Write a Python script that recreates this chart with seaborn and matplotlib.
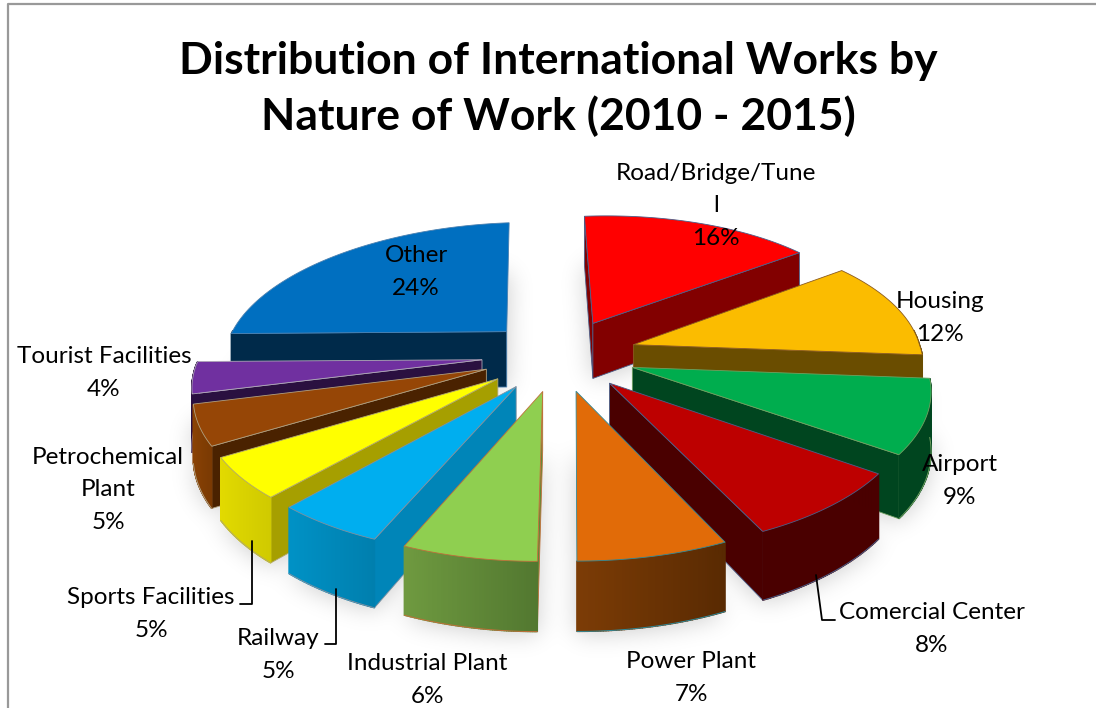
import numpy as np
import seaborn as sns
import matplotlib.pyplot as plt
from matplotlib.colors import to_rgb
from matplotlib.patches import Polygon
from matplotlib.path import Path

labels = ['Road/Bridge/Tune\nl', 'Housing', 'Airport', 'Comercial Center', 'Power Plant',
          'Industrial Plant', 'Railway', 'Sports Facilities', 'Petrochemical\nPlant',
          'Tourist Facilities', 'Other']
# shares, they round to the printed percentages
values = [15.6, 11.9, 8.6, 8.0, 7.0, 6.3, 5.2, 4.9, 4.8, 3.8, 24.0]

top_colors = ['#ff0000', '#fbbc00', '#00ad4e', '#bd0000', '#e16b08', '#8fcf50', '#00aeef',
              '#ffff00', '#964606', '#7030a0', '#006fc0']
face_colors = ['#820000', '#6a4d00', '#00451f', '#4a0000', '#6e3404', '#5f8a38', '#0085b8',
               '#a69f00', '#4a2200', '#2a1040', '#002a4a']
rim_left = ['#820000', '#6a4d00', '#00451f', '#4a0000', '#7c3c06', '#6f9a40', '#0092c6',
            '#e2da00', '#8a4204', '#2a1040', '#002a4a']
rim_right = ['#820000', '#6a4d00', '#00451f', '#4a0000', '#592a02', '#527830', '#007fae',
             '#d0ca00', '#7a3a03', '#2a1040', '#002a4a']
edge_colors = ['#4a5f8a', '#8a5a20', '#70a060', '#4a5f8a', '#2f8a9a', '#c0703a', '#8090a0',
               '#b0a870', '#b0a080', '#b0a8b8', '#4a80b0']

# label text centres, in pixels of the 1096x708 image
label_x = [716, 940, 960, 932, 691, 427, 278, 151, 108, 104, 416]
label_y = [206, 318, 481, 629, 678, 680, 655, 614, 490, 373, 272]

sns.set_theme(style='white')
plt.rcParams['font.family'] = ['Lato', 'DejaVu Sans']

W, H = 1096, 708
CX, CY = 559, 355
AX, AY = 286, 132
PERSP = 0.15
SHEAR = 12
TILT = 8
EXPLODE = 0.27
DEPTH = 57
ROT = -1


def project(x, y, z=0):
    s = 1 / (1 - PERSP * y)
    sx = CX + x * AX * s + SHEAR * np.maximum(y, 0) * s
    sy = CY + y * AY * s + z * s - TILT * x * s
    return sx, sy


def arc(start, end, n=40):
    t = np.radians(np.linspace(start, end, n))
    return np.sin(t), -np.cos(t)


fig = plt.figure(figsize=(W / 100, H / 100), dpi=100)
ax = fig.add_axes([0, 0, 1, 1])

# slices as angle ranges, clockwise from the back of the pie
angles = np.cumsum([0] + values) / sum(values) * 360 + ROT
slices = []
for i in range(len(values)):
    a0, a1 = angles[i], angles[i + 1]
    mid = np.radians((a0 + a1) / 2)
    slices.append((i, a0, a1, np.sin(mid) * EXPLODE, -np.cos(mid) * EXPLODE))
# back to front
slices.sort(key=lambda s: s[4])

# soft shadow: slices at the bottom of the pie, blurred
gx, gy = np.meshgrid(np.arange(W) + 0.5, np.arange(H) + 0.5)
grid = np.c_[gx.ravel(), gy.ravel()]
mask = np.zeros(H * W, dtype=bool)
for i, a0, a1, ox, oy in slices:
    xs, ys = arc(a0, a1)
    sx, sy = project(np.r_[0, xs] + ox, np.r_[0, ys] + oy, DEPTH + 2)
    mask |= Path(np.c_[sx, sy]).contains_points(grid)
mask = mask.reshape(H, W).astype(float)
fy = np.fft.fftfreq(H)[:, None]
fx = np.fft.rfftfreq(W)[None, :]
blur = np.fft.irfft2(np.fft.rfft2(mask) * np.exp(-2 * (np.pi * 12) ** 2 * (fx ** 2 + fy ** 2)), s=(H, W))
shadow = np.zeros((H, W, 4))
shadow[..., 3] = np.clip(blur, 0, 1) * 0.2
ax.imshow(shadow, extent=(0, W, H, 0), aspect='auto', zorder=0)

for i, a0, a1, ox, oy in slices:
    edge = edge_colors[i]
    # flat cut faces that look towards the viewer
    for ang, visible in ((a0, np.sin(np.radians(a0)) < 0), (a1, np.sin(np.radians(a1)) > 0)):
        if visible:
            ex, ey = arc(ang, ang, 1)
            px = np.array([ox, ox + ex[0], ox + ex[0], ox])
            py = np.array([oy, oy + ey[0], oy + ey[0], oy])
            sx, sy = project(px, py, np.array([0, 0, DEPTH, DEPTH]))
            ax.add_patch(Polygon(np.c_[sx, sy], fc=face_colors[i], ec=edge, lw=0.6))
    # outer rim, in short strips so it can carry the gradient
    xs, ys = arc(a0, a1, 60)
    for j in range(len(xs) - 1):
        if ys[j] < -0.05 and ys[j + 1] < -0.05:
            continue
        f = (xs[j] - xs.min()) / (xs.max() - xs.min())
        col = tuple((1 - f) * np.array(to_rgb(rim_left[i])) + f * np.array(to_rgb(rim_right[i])))
        px = ox + np.array([xs[j], xs[j + 1], xs[j + 1], xs[j]])
        py = oy + np.array([ys[j], ys[j + 1], ys[j + 1], ys[j]])
        sx, sy = project(px, py, np.array([0, 0, DEPTH, DEPTH]))
        ax.add_patch(Polygon(np.c_[sx, sy], fc=col, ec=col, lw=1.0))
    # bottom edge of the rim, same zorder as the patches so later slices cover it
    front = ys >= -0.05
    if front.any():
        sx, sy = project(ox + xs[front], oy + ys[front], DEPTH)
        ax.plot(sx, sy, color=edge, lw=0.7, zorder=1)
    # top surface
    sx, sy = project(np.r_[0, xs] + ox, np.r_[0, ys] + oy)
    ax.add_patch(Polygon(np.c_[sx, sy], fc=top_colors[i], ec=edge, lw=0.6))

# leader lines
ax.plot([816, 822, 835], [575, 620, 620], color='black', lw=1.3)
ax.plot([252, 252, 240], [541, 604, 604], color='black', lw=1.3)
ax.plot([336, 336, 325], [589, 644, 644], color='black', lw=1.3)

for name, v, x, y in zip(labels, values, label_x, label_y):
    ax.text(x, y, f'{name}\n{v:.0f}%', ha='center', va='center', fontsize=17.5, color='black',
            linespacing=1.65)

ax.text(558, 89, 'Distribution of International Works by\nNature of Work (2010 - 2015)',
        ha='center', va='center', fontsize=32, fontweight='bold', color='black', linespacing=1.41)

# chart frame, cut off by the crop on the right and at the bottom
ax.plot([8, 8, W], [H, 4, 4], color='#999999', lw=1.6)

ax.set_xlim(0, W)
ax.set_ylim(H, 0)
ax.set_axis_off()

fig.savefig('out.png', dpi=100)
